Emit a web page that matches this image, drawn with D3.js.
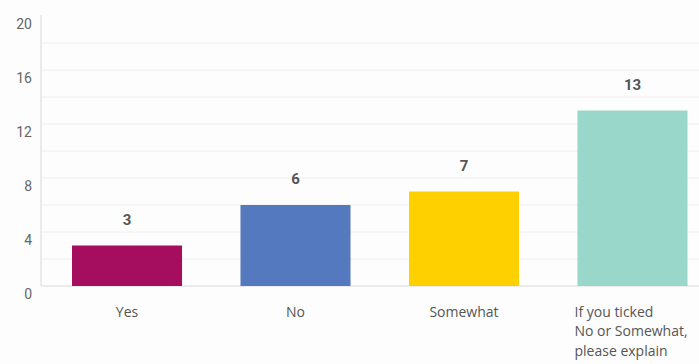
<!DOCTYPE html>
<html>
<head>
<meta charset="utf-8">
<script src="https://cdn.jsdelivr.net/npm/d3@7"></script>
<style>
  body { margin: 0; background: #fdfdfd; }
  svg { display: block; }
</style>
</head>
<body>
<div id="chart"></div>
<script>
// chart data
const categories = ["Yes", "No", "Somewhat", "If you ticked No or Somewhat, please explain"];
const labelLines = [["Yes"], ["No"], ["Somewhat"], ["If you ticked", "No or Somewhat,", "please explain"]];
const values = [3, 6, 7, 13];
const colors = ["#a50d5f", "#5479be", "#ffd000", "#99d7cb"];
const yTicks = [0, 4, 8, 12, 16, 20];
const gridTicks = [2, 4, 6, 8, 10, 12, 14, 16, 18];

const width = 699, height = 364;

const svg = d3.select("#chart")
  .append("svg")
  .attr("width", width)
  .attr("height", height);

// scales
const x = d3.scaleBand()
  .domain(categories)
  .range([41, 718.5])
  .paddingInner(0.347)
  .paddingOuter(0.184);

const y = d3.scaleLinear()
  .domain([0, 20])
  .range([286, 16]);

// gridlines
svg.append("g")
  .selectAll("line")
  .data(gridTicks)
  .join("line")
  .attr("x1", 41)
  .attr("x2", width)
  .attr("y1", d => y(d))
  .attr("y2", d => y(d))
  .attr("stroke", "#eeeeee")
  .attr("stroke-width", 1);

// baseline + y axis line
svg.append("line")
  .attr("x1", 41).attr("x2", width)
  .attr("y1", y(0)).attr("y2", y(0))
  .attr("stroke", "#d9d9d9");
svg.append("line")
  .attr("x1", 41).attr("x2", 41)
  .attr("y1", 15).attr("y2", y(0))
  .attr("stroke", "#d9d9d9");

// y tick labels (sit just under their gridline)
svg.append("g")
  .selectAll("text")
  .data(yTicks)
  .join("text")
  .attr("x", 32)
  .attr("y", d => y(d) + 8)
  .attr("dy", "0.35em")
  .attr("text-anchor", "end")
  .attr("fill", "#666")
  .style("font", "14px Roboto, sans-serif")
  .text(d => d);

// bars
svg.append("g")
  .selectAll("rect")
  .data(values)
  .join("rect")
  .attr("x", (d, i) => x(categories[i]))
  .attr("width", x.bandwidth())
  .attr("y", d => y(d))
  .attr("height", d => y(0) - y(d))
  .attr("fill", (d, i) => colors[i]);

// value labels
svg.append("g")
  .selectAll("text")
  .data(values)
  .join("text")
  .attr("x", (d, i) => x(categories[i]) + x.bandwidth() / 2)
  .attr("y", d => y(d) - 26)
  .attr("dy", "0.35em")
  .attr("text-anchor", "middle")
  .attr("fill", "#555")
  .style("font", "bold 15px Roboto, sans-serif")
  .text(d => d);

// category labels
const cat = svg.append("g")
  .selectAll("text")
  .data(labelLines)
  .join("text")
  .attr("x", (d, i) => d.length > 1 ? x(categories[i]) - 3 : x(categories[i]) + x.bandwidth() / 2)
  .attr("y", 312)
  .attr("text-anchor", d => d.length > 1 ? "start" : "middle")
  .attr("fill", "#555")
  .style("font", "14px 'Open Sans', sans-serif");

cat.selectAll("tspan")
  .data(d => d)
  .join("tspan")
  .attr("x", function() { return d3.select(this.parentNode).attr("x"); })
  .attr("dy", (d, i) => i === 0 ? "0.35em" : "19.5")
  .text(d => d);
</script>
</body>
</html>
